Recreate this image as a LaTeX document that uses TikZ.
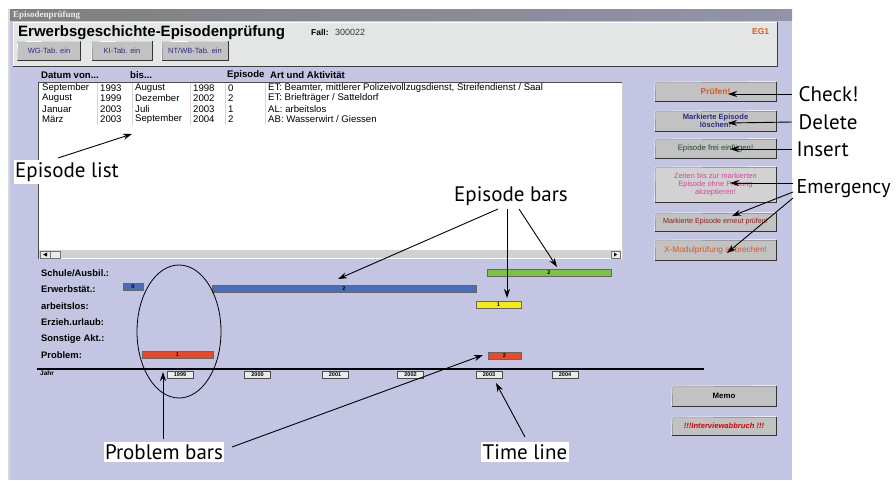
\documentclass[tikz,border=0pt]{standalone}
\usepackage{fontspec}
\setmainfont{Liberation Sans}
\newfontfamily\annfont{PT Sans}
\newfontfamily\ttlfont{Liberation Serif}
\usetikzlibrary{arrows.meta,calc}
\definecolor{lav}{HTML}{C3C5E2}
\definecolor{panel}{HTML}{E4E6E6}
\definecolor{btngray}{HTML}{C2C2C2}
\definecolor{btnlight}{HTML}{D2D2D2}
\definecolor{barblue}{HTML}{4A6DB8}
\definecolor{bargreen}{HTML}{7DC242}
\definecolor{baryellow}{HTML}{F5EA14}
\definecolor{barred}{HTML}{E84A27}
\definecolor{txtblue}{HTML}{2B2B85}
\definecolor{txtorange}{HTML}{E0561E}
\definecolor{txtpink}{HTML}{D04A9A}
\definecolor{txtgreen}{HTML}{1E4A2A}
\definecolor{txtred}{HTML}{8A1E1E}
\definecolor{sep}{HTML}{E6CFCF}
\newcommand\fsz[2]{\fontsize{#1}{#2}\selectfont}
\begin{document}
\begin{tikzpicture}[x=1pt,y=-1pt,
  every node/.style={inner sep=0pt},
  btn/.style={fill=btngray,draw=black!45,line width=0.6pt,align=center,font=\fsz{8}{9}},
  bar/.style={draw=black!60,line width=0.5pt,minimum height=7pt,font=\bfseries\fsz{5.5}{6}},
  yearbox/.style={fill=black!8,draw=black!70,line width=0.5pt,minimum width=26pt,minimum height=7pt,font=\bfseries\fsz{5.5}{6}},
  cell/.style={anchor=west,font=\fsz{9.6}{10}},
  hcell/.style={anchor=west,font=\bfseries\fsz{9.6}{10}},
  rowlab/.style={anchor=west,font=\bfseries\fsz{9.4}{10}},
  ann/.style={fill=white,inner xsep=1.5pt,inner ysep=2pt,font=\annfont\fsz{21}{23}},
  arr/.style={-{Stealth[length=9pt,width=6pt]},line width=0.9pt,black},
  ]
\useasboundingbox (0,0) rectangle (896,480);
\fill[white] (0,0) rectangle (896,480);
% window
\fill[black!15] (8,9) rectangle (10,480);
\fill[lav] (10,20) rectangle (792,480);
\shade[left color=black!50,right color=black!25!lav] (10,9) rectangle (792,20);
\node[anchor=west,text=black!8,font=\ttlfont\bfseries\fsz{9}{10}] (ttl) at (13,15) {Episodenprüfung};
% header panel
\fill[panel] (13,22) rectangle (777,66);
\draw[black!75,line width=0.9pt] (13,66) -- (777,66) -- (777,22);
\draw[white,line width=0.8pt] (13,66) -- (13,22) -- (777,22);
\node[anchor=west,font=\bfseries\fsz{15}{16}] (title) at (18,33) {Erwerbsgeschichte-Episodenprüfung};
\node[anchor=west,font=\bfseries\fsz{8.5}{9}] (fall) at (311,32) {Fall:};
\node[anchor=west,font=\fsz{9}{10},text=black!80] (fallnr) at (335,32) {300022};
\node[anchor=west,font=\bfseries\fsz{8.5}{9},text=txtorange] (eg) at (752,32) {EG1};
\node[btn,minimum width=63pt,minimum height=19pt,text=txtblue,font=\fsz{7.5}{8}] (wg) at (49,51) {WG-Tab. ein};
\node[btn,minimum width=60pt,minimum height=19pt,text=txtblue,font=\fsz{7.5}{8}] (ki) at (122,51) {KI-Tab. ein};
\node[btn,minimum width=66pt,minimum height=19pt,text=txtblue,font=\fsz{7.5}{8}] (nt) at (195,51) {NT/WB-Tab. ein};
% table header
\node[hcell] (h1) at (41,75) {Datum von...};
\node[hcell] (h2) at (130,75) {bis...};
\node[hcell] (h3) at (227,75) {Episode};
\node[hcell] (h4) at (270,75) {Art und Aktivität};
% list box
\fill[white] (38,82) rectangle (622,259);
\draw[black!70,line width=0.8pt] (38,259) -- (38,82) -- (622,82);
\draw[black!20,line width=0.6pt] (622,82) -- (622,259);
\foreach \sx in {97,132,190,225,265} \draw[sep,line width=0.8pt] (\sx,83) -- (\sx,125);
\foreach \r/\ya/\yb/\yc/\yd/\ye [count=\i] in {
  88/September/1993/August/1998/0,
  98.5/August/1999/Dezember/2002/2,
  109/Januar/2003/Juli/2003/1,
  119.5/März/2003/September/2004/2}{
  \node[cell] (r\i a) at (42,\r) {\ya};
  \node[cell] (r\i b) at (100,\r) {\yb};
  \node[cell] (r\i c) at (135,\r) {\yc};
  \node[cell] (r\i d) at (193,\r) {\yd};
  \node[cell] (r\i e) at (228,\r) {\ye};
}
\node[cell] (r1f) at (268,88) {ET: Beamter, mittlerer Polizeivollzugsdienst, Streifendienst / Saal};
\node[cell] (r2f) at (268,98.5) {ET: Briefträger / Satteldorf};
\node[cell] (r3f) at (268,109) {AL: arbeitslos};
\node[cell] (r4f) at (268,119.5) {AB: Wasserwirt / Giessen};
% scrollbar
\fill[black!18] (39,250) rectangle (621,258);
\draw[black!55,line width=0.4pt,fill=black!8] (40,251) rectangle (50,258);
\draw[black!55,line width=0.4pt,fill=black!8] (50,251) rectangle (60,258);
\fill[black] (43,254.5) -- (47,252.5) -- (47,256.5) -- cycle;
\draw[black!55,line width=0.4pt,fill=black!8] (611,251) rectangle (620,258);
\fill[black] (617,254.5) -- (614,252.5) -- (614,256.5) -- cycle;
% right buttons
\node[btn,minimum width=121pt,minimum height=19pt,text=txtorange,font=\bfseries\fsz{8.5}{9}] (pruef) at (715.5,91.5) {Prüfen!};
\node[btn,minimum width=121pt,minimum height=20pt,text=txtblue,font=\bfseries\fsz{7.6}{8.2}] (loesch) at (715.5,121) {Markierte Episode\\löschen!};
\node[btn,minimum width=121pt,minimum height=19pt,text=txtgreen,font=\fsz{7.8}{8.5}] (einf) at (715.5,148.5) {Episode frei einfügen!};
\node[btn,fill=btnlight,minimum width=121pt,minimum height=35pt,text=txtpink,font=\fsz{7.5}{8.2}] (zeiten) at (715.5,184.5) {Zeiten bis zur markierten\\Episode ohne Prüfung\\akzeptieren!};
\node[btn,minimum width=121pt,minimum height=18pt,text=txtred,font=\fsz{7.2}{8}] (erneut) at (715.5,222) {Markierte Episode erneut prüfen!};
\node[btn,minimum width=121pt,minimum height=20pt,text=txtorange,font=\fsz{8.3}{9}] (xmod) at (715.5,250) {X-Modulprüfung abbrechen!};
\node[btn,minimum width=104pt,minimum height=20pt,text=black,font=\bfseries\fsz{7.8}{8.5}] (memo) at (724,396) {Memo};
\node[btn,minimum width=104pt,minimum height=18pt,text=red!85!black,font=\bfseries\itshape\fsz{7.6}{8.5}] (inab) at (724,426) {!!!Interviewabbruch !!!};
\foreach \b in {wg,ki,nt,pruef,loesch,einf,zeiten,erneut,xmod,memo,inab}{
  \draw[black!80,line width=0.9pt] (\b.south west) -- (\b.south east) -- (\b.north east);
  \draw[white,line width=0.6pt] ([yshift=0.5pt]\b.south west) -- ([xshift=0.4pt,yshift=-0.4pt]\b.north west) -- ([xshift=-0.5pt]\b.north east);
}
% timeline rows
\node[rowlab] (l1) at (41,273) {Schule/Ausbil.:};
\node[rowlab] (l2) at (41,289.5) {Erwerbstät.:};
\node[rowlab] (l3) at (41,306) {arbeitslos:};
\node[rowlab] (l4) at (41,322.5) {Erzieh.urlaub:};
\node[rowlab] (l5) at (41,339) {Sonstige Akt.:};
\node[rowlab] (l6) at (41,355.5) {Problem:};
% bars
\node[bar,fill=barblue,minimum width=20pt] (e0) at (133,287) {0};
\node[bar,fill=barblue,minimum width=264pt] (e2) at (344,288.5) {2};
\node[bar,fill=bargreen,minimum width=124pt] (s2) at (549,272.5) {2};
\node[bar,fill=baryellow,minimum width=45pt] (a1) at (498.5,305) {1};
\node[bar,fill=barred,minimum width=71pt] (p1) at (177.5,354.5) {1};
\node[bar,fill=barred,minimum width=33pt] (p2) at (504.5,355.5) {2};
% time axis
\coordinate (ax1) at (37,369);
\coordinate (ax2) at (704,369);
\draw[black,line width=2pt] (ax1) -- (ax2);
\node[anchor=west,font=\bfseries\fsz{6.5}{7}] (jahr) at (40,373) {Jahr};
\foreach \yr/\xc in {1999/180,2000/257.5,2001/335,2002/410.5,2003/489,2004/565}
  \node[yearbox] (y\yr) at (\xc,374.5) {\yr};
% ellipse
\draw[black,line width=0.8pt] (179,331.5) ellipse [x radius=42, y radius=66.5];
% annotations
\node[ann,anchor=west] (chk) at (797,94) {Check!};
\node[ann,anchor=west] (del) at (797,122) {Delete};
\node[ann,anchor=west] (ins) at (795,149) {Insert};
\node[ann,anchor=west,font=\annfont\fsz{20}{22}] (emg) at (795,189) {Emergency};
\node[ann] (elist) at (67,172) {Episode list};
\node[ann] (ebars) at (511,196) {Episode bars};
\node[ann] (pbars) at (164,452) {Problem bars};
\node[ann] (tline) at (525,452) {Time line};
% arrow tips and starts
\coordinate (tchk) at (728,94);
\coordinate (tdel) at (728,123);
\coordinate (tins) at (730,149);
\coordinate (sem1) at (793,183);
\coordinate (sem2) at (793,192);
\coordinate (sem3) at (793,198);
\coordinate (tem1) at (730,183);
\coordinate (tem2) at (732,216);
\coordinate (tem3) at (727,253);
\coordinate (sel) at (58,158);
\coordinate (tel) at (132,134);
\coordinate (seb1) at (498,209);
\coordinate (seb2) at (507,209);
\coordinate (seb3) at (519,209);
\coordinate (teb1) at (338,279);
\coordinate (teb2) at (507,298);
\coordinate (teb3) at (557,267);
\coordinate (spb1) at (163,439);
\coordinate (spb2) at (232,447);
\coordinate (tpb1) at (163,372);
\coordinate (tpb2) at (483,355);
\coordinate (stl) at (525,437);
\coordinate (ttl1) at (496,383);
\draw[arr] (chk.west) ++(-5pt,0) -- (tchk);
\draw[arr] (del.west) ++(-5pt,0) -- (tdel);
\draw[arr] (ins.west) ++(-3pt,0) -- (tins);
\draw[arr] (sem1) -- (tem1);
\draw[arr] (sem2) -- (tem2);
\draw[arr] (sem3) -- (tem3);
\draw[arr] (sel) -- (tel);
\draw[arr] (seb1) -- (teb1);
\draw[arr] (seb2) -- (teb2);
\draw[arr] (seb3) -- (teb3);
\draw[arr] (spb1) -- (tpb1);
\draw[arr] (spb2) -- (tpb2);
\draw[arr] (stl) -- (ttl1);
\end{tikzpicture}
\end{document}
